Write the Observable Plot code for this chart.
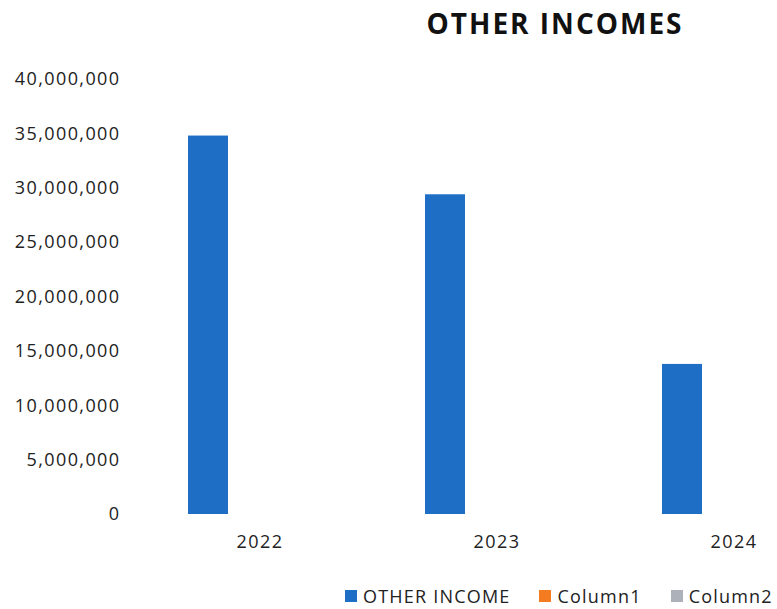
<!DOCTYPE html>
<html>
<head>
<meta charset="utf-8">
<script src="https://cdn.jsdelivr.net/npm/d3@7"></script>
<script src="https://cdn.jsdelivr.net/npm/@observablehq/plot@0.6"></script>
<style>
  html, body { margin: 0; padding: 0; background: #fff; }
  #chart { position: relative; width: 777px; height: 609px; overflow: hidden; font-family: "Open Sans", sans-serif; }
  #title { position: absolute; left: 0; top: 9px; width: 1110px; text-align: center; font-weight: 700; font-size: 28px; line-height: 28px; letter-spacing: 2px; color: #111; }
  #plot { position: absolute; left: 0; top: 0; width: 860px; }
  #plot svg { max-width: none !important; }
  #plot text { letter-spacing: 1.4px; }
  #legend { position: absolute; left: 345px; top: 586px; width: 440px; }
  #legend > div { min-height: 0 !important; margin: 0 !important; line-height: 20px; letter-spacing: 1.2px; flex-wrap: nowrap !important; white-space: nowrap; }
  .lg-swatch { margin-right: 29px !important; }
  .lg-swatch svg { margin-right: 6px !important; }
</style>
</head>
<body>
<div id="chart">
  <div id="plot"></div>
  <div id="title">OTHER INCOMES</div>
  <div id="legend"></div>
</div>
<script>
// Categories and series
const years = ["2022", "2023", "2024"];
const seriesNames = ["OTHER INCOME", "Column1", "Column2"];

// Series values (Column1 and Column2 are empty)
const otherIncome = [34800000, 29400000, 13800000];
const column1 = [null, null, null];
const column2 = [null, null, null];

// Axis ticks and series colours
const yTicks = [0, 5000000, 10000000, 15000000, 20000000, 25000000, 30000000, 35000000, 40000000];
const seriesColors = ["#1d6ec4", "#f47b20", "#adb2ba"];

const seriesValues = [otherIncome, column1, column2];
const rows = years.flatMap((year, i) =>
  seriesNames.map((series, s) => ({year, series, value: seriesValues[s][i]}))
);

const chart = Plot.plot({
  width: 860,
  height: 566,
  marginLeft: 140,
  marginRight: 8,
  marginTop: 79,
  marginBottom: 52,
  style: {fontFamily: "'Open Sans', sans-serif", fontSize: "18px", color: "#222", background: "transparent", overflow: "visible"},
  fx: {domain: years, padding: 0, axis: "bottom", label: null, tickSize: 0, tickPadding: 21},
  x: {domain: seriesNames, axis: null, paddingInner: 0.21, paddingOuter: 0.892},
  y: {domain: [0, 40000000], ticks: yTicks, tickFormat: d3.format(","), label: null, tickSize: 0, tickPadding: 21},
  color: {domain: seriesNames, range: seriesColors},
  marks: [
    Plot.barY(rows, {fx: "year", x: "series", y: "value", fill: "series"})
  ]
});
document.getElementById("plot").append(chart);

const legend = chart.legend("color", {
  className: "lg",
  swatchSize: 12,
  style: {fontFamily: "'Open Sans', sans-serif", fontSize: "18px", color: "#222"}
});
document.getElementById("legend").append(legend);
</script>
</body>
</html>
